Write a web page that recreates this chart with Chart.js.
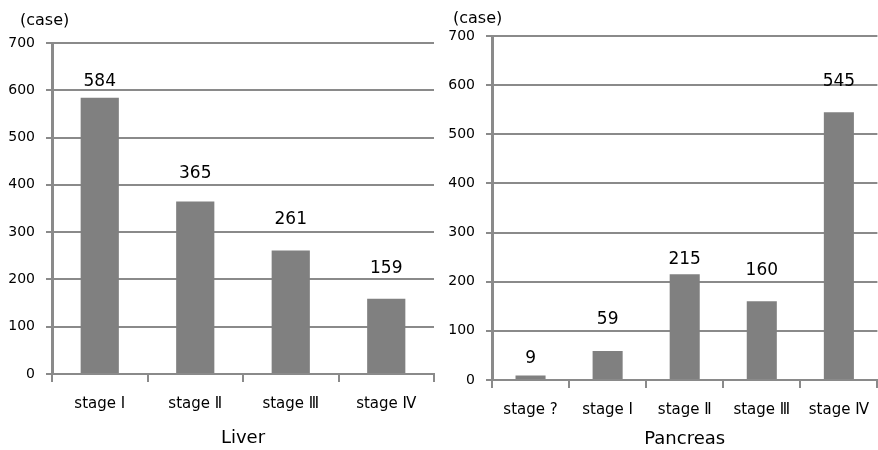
<!DOCTYPE html>
<html><head><meta charset="utf-8">
<script src="https://cdn.jsdelivr.net/npm/chart.js@4"></script>
<style>
html,body{margin:0;padding:0;background:#fff;width:878px;height:450px;overflow:hidden;position:relative}
.box{position:absolute;top:0;height:450px}
</style></head><body>
<div class="box" style="left:0;width:440px"><canvas id="c1" width="440" height="450"></canvas></div>
<div class="box" style="left:440px;width:442px"><canvas id="c2" width="442" height="450"></canvas></div>
<script>
const liverCategories = ['stage Ⅰ', 'stage Ⅱ', 'stage Ⅲ', 'stage Ⅳ'];
const liverValues = [584, 365, 261, 159];
const pancreasCategories = ['stage ?', 'stage Ⅰ', 'stage Ⅱ', 'stage Ⅲ', 'stage Ⅳ'];
const pancreasValues = [9, 59, 215, 160, 545];
const yAxisMin = 0;
const yAxisMax = 700;
const yAxisStep = 100;
const unitLabel = '(case)';

const FONT = '"DejaVu Sans", "Noto Sans CJK JP", sans-serif';
const GRID = '#8a8a8a';
const BAR = '#808080';

const annot = {
  id: 'annot',
  afterDatasetsDraw(chart, args, opts) {
    const ctx = chart.ctx;
    const meta = chart.getDatasetMeta(0);
    const data = chart.data.datasets[0].data;
    ctx.save();
    ctx.fillStyle = '#000';
    ctx.font = '17px ' + FONT;
    ctx.textAlign = 'center';
    ctx.textBaseline = 'middle';
    meta.data.forEach((bar, i) => {
      ctx.fillText(String(data[i]), bar.x, bar.y - opts.gaps[i]);
    });
    ctx.font = '16px ' + FONT;
    ctx.textAlign = 'left';
    ctx.fillText(opts.unit, opts.unitX, opts.unitY);
    ctx.restore();
  }
};

function makeChart(id, cats, vals, title, cfg) {
  return new Chart(document.getElementById(id), {
    type: 'bar',
    data: {
      labels: cats,
      datasets: [{ data: vals, backgroundColor: BAR, borderWidth: 0,
        barPercentage: cfg.barPct, categoryPercentage: 1 }]
    },
    options: {
      responsive: false,
      animation: false,
      events: [],
      layout: { padding: { top: cfg.top, right: cfg.right, left: 0, bottom: 0 } },
      plugins: {
        legend: { display: false },
        tooltip: { enabled: false },
        annot: { gaps: cfg.gaps, unit: unitLabel, unitX: cfg.unitX, unitY: cfg.unitY }
      },
      scales: {
        x: {
          grid: { offset: true, drawOnChartArea: false, drawTicks: true, tickLength: 8, color: GRID, lineWidth: 2 },
          border: { color: GRID, width: 2 },
          ticks: { color: '#000', font: { family: FONT, size: 15 }, padding: cfg.tickPad },
          title: { display: true, text: title, color: '#000', font: { family: FONT, size: 18 },
            padding: { top: 0, bottom: cfg.titlePad } },
          afterFit(s) { s.height = 450 - cfg.bottom; }
        },
        y: {
          min: yAxisMin, max: yAxisMax,
          ticks: { stepSize: yAxisStep, color: '#000', font: { family: FONT, size: 14 }, padding: 11 },
          grid: { color: GRID, lineWidth: 2, tickLength: 6 },
          border: { color: GRID, width: 3 },
          afterFit(s) { s.width = 52; }
        }
      }
    },
    plugins: [annot]
  });
}

makeChart('c1', liverCategories, liverValues, 'Liver',
  { top: 43, right: 6, bottom: 374, barPct: 0.4, tickPad: 13, titlePad: 1,
    gaps: [16, 28, 31, 30], unitX: 20, unitY: 21 });
makeChart('c2', pancreasCategories, pancreasValues, 'Pancreas',
  { top: 36, right: 0, bottom: 380, barPct: 0.39, tickPad: 13, titlePad: 0,
    gaps: [17, 31, 15, 31, 31], unitX: 13, unitY: 19 });
</script>
</body></html>
